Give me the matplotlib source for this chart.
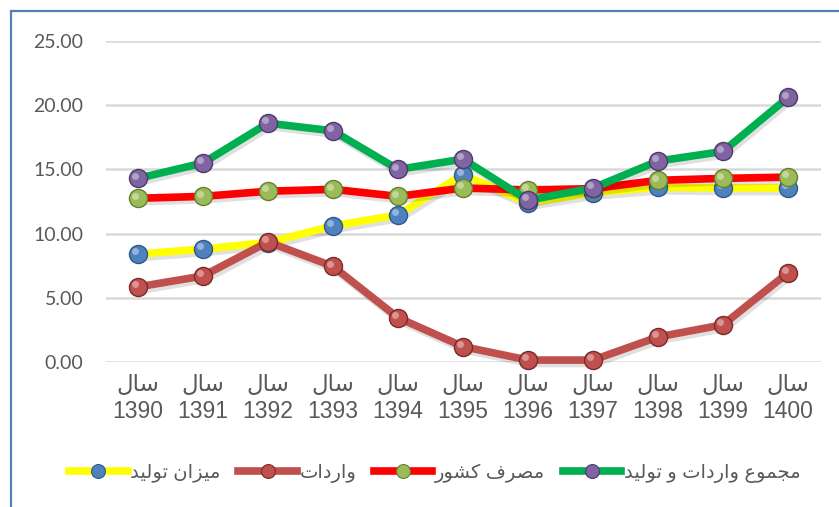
import numpy as np
import matplotlib
matplotlib.use("Agg")
import matplotlib.pyplot as plt
import matplotlib.patheffects as pe
from matplotlib.transforms import offset_copy
from matplotlib.patches import Rectangle
from matplotlib.lines import Line2D

# Persian text is written in pre-shaped presentation forms, in visual order,
# because matplotlib does no Arabic shaping.
SAL = "\uFEDD\uFE8E\uFEB3"                      # سال
TOLID = "\uFEAA\uFEF4\uFEDF\uFEEE\uFE97"        # تولید
MIZAN = "\uFEE5\uFE8D\uFEB0\uFEF4\uFEE3"        # میزان
VAREDAT = "\uFE95\uFE8D\uFEA9\uFEAD\uFE8D\uFEED"  # واردات
MASRAF = "\uFED1\uFEAE\uFEBC\uFEE3"             # مصرف
KESHVAR = "\uFEAD\uFEEE\uFEB8\uFEDB"            # کشور
MAJMOO = "\uFEC9\uFEEE\uFEE4\uFEA0\uFEE3"       # مجموع
VA = "\uFEED"                                   # و

years = ["1390", "1391", "1392", "1393", "1394", "1395",
         "1396", "1397", "1398", "1399", "1400"]
production = [8.4, 8.8, 9.3, 10.6, 11.45, 14.6, 12.4, 13.2, 13.6, 13.55, 13.55]
imports = [5.85, 6.7, 9.35, 7.45, 3.45, 1.2, 0.15, 0.15, 1.95, 2.9, 6.95]
consumption = [12.75, 12.9, 13.3, 13.45, 12.9, 13.55, 13.4, 13.5, 14.15, 14.3, 14.4]
total = [14.3, 15.5, 18.6, 18.0, 15.0, 15.8, 12.6, 13.55, 15.65, 16.4, 20.6]

labels = [TOLID + " " + MIZAN,
          VAREDAT,
          KESHVAR + " " + MASRAF,
          TOLID + " " + VA + " " + VAREDAT + " " + MAJMOO]
series = [production, imports, consumption, total]
line_colors = ["#FFFF00", "#C0504D", "#FF0000", "#00B050"]
marker_colors = ["#4F81BD", "#C0504D", "#9BBB59", "#8064A2"]
edge_colors = ["#2E5A8C", "#7A2A28", "#66802F", "#4E3A6C"]

fig = plt.figure(figsize=(8.39, 5.07), dpi=100)
ax = fig.add_axes([105.5 / 839, (507 - 362) / 507, 715 / 839, 321 / 507])

# chart border (left and top visible, rest runs off the picture)
fig.patches.append(Rectangle((11 / 839, -0.1), 1.2, (507 - 11) / 507 + 0.1,
                             transform=fig.transFigure, fill=False,
                             edgecolor="#4F81BD", linewidth=1.6))

x = np.arange(len(years))
hl = offset_copy(ax.transData, fig=fig, x=-2.0, y=2.0, units="points")
handles = []
for vals, lc, mc, ec in zip(series, line_colors, marker_colors, edge_colors):
    ax.plot(x, vals, color=lc, linewidth=5.5, solid_capstyle="round",
            solid_joinstyle="round", clip_on=False,
            path_effects=[pe.SimpleLineShadow(offset=(1.5, -2.5), alpha=0.12,
                                              shadow_color="black"),
                          pe.Normal()])
    ax.plot(x, vals, linestyle="none", marker="o", markersize=13,
            markerfacecolor=mc, markeredgecolor=ec, markeredgewidth=1.0,
            clip_on=False)
    ax.plot(x, vals, linestyle="none", marker="o", markersize=5,
            markerfacecolor="white", markeredgewidth=0, alpha=0.4,
            transform=hl, clip_on=False)
    handles.append(Line2D([], [], color=lc, linewidth=5.5, marker="o",
                          markersize=10, markerfacecolor=mc,
                          markeredgecolor=ec, markeredgewidth=0.8))

ax.set_xlim(-0.5, len(years) - 0.5)
ax.set_ylim(0, 25)
ax.set_yticks(np.arange(0, 26, 5))
ax.set_yticklabels(["%.2f" % v for v in np.arange(0, 26, 5)],
                   family=["Lato", "DejaVu Sans"], fontsize=14, color="#595959")
ax.set_xticks(x)
ax.set_xticklabels([SAL + "\n" + y for y in years],
                   family=["Liberation Sans", "DejaVu Sans"], fontsize=16.5,
                   color="#595959", linespacing=1.2)
ax.tick_params(axis="both", length=0)
ax.tick_params(axis="y", pad=16)
ax.tick_params(axis="x", pad=8)
ax.grid(axis="y", color="#D9D9D9", linewidth=1.8)
ax.set_axisbelow(True)
for s in ax.spines.values():
    s.set_visible(False)

leg = fig.legend(handles=handles, labels=labels, loc="center",
                 bbox_to_anchor=(435 / 839, (507 - 473) / 507), ncol=4,
                 frameon=False, handlelength=3.0, handletextpad=0.15,
                 columnspacing=0.9,
                 prop={"family": ["Liberation Sans", "DejaVu Sans"], "size": 14})
for t in leg.get_texts():
    t.set_color("#595959")

fig.savefig("out.png", dpi=100)
